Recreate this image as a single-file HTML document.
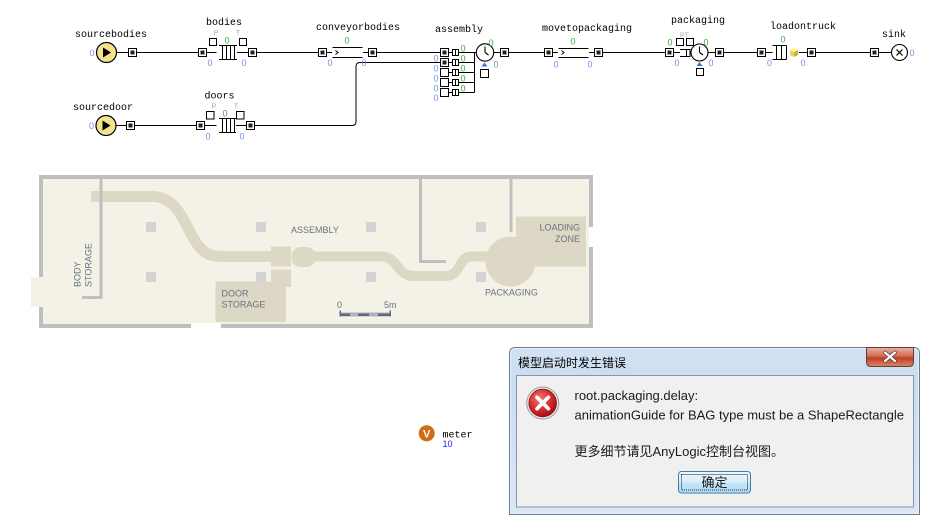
<!DOCTYPE html>
<html>
<head>
<meta charset="utf-8">
<style>
html,body{margin:0;padding:0;background:#fff;width:942px;height:527px;overflow:hidden;}
svg{display:block;}
.lb{font-family:"Liberation Mono",monospace;font-size:10px;fill:#000;}
.b0{font-family:"Liberation Sans",sans-serif;font-size:9px;fill:#6f8fe6;}
.g0{font-family:"Liberation Sans",sans-serif;font-size:9px;fill:#3ea83e;}
.pt{font-family:"Liberation Sans",sans-serif;font-size:7px;fill:#a8a8a8;}
.fp{font-family:"Liberation Sans",sans-serif;font-size:9px;fill:#67727f;}
.dt{font-family:"Liberation Sans","Noto Sans CJK SC",sans-serif;font-size:13px;fill:#1a1a1a;}
</style>
</head>
<body>
<svg width="942" height="527" viewBox="0 0 942 527" xmlns="http://www.w3.org/2000/svg">
<defs>
  <g id="pf"><rect x="-4" y="-4" width="8" height="8" fill="#fff" stroke="#000"/><rect x="-2" y="-2" width="4" height="4" fill="#222"/></g>
  <g id="pe"><rect x="-4" y="-4" width="8" height="8" fill="#fff" stroke="#000"/></g>
  <g id="sq"><rect x="-0.5" y="-3" width="6" height="6" fill="#fff" stroke="#000"/><line x1="2.5" y1="-3" x2="2.5" y2="3" stroke="#000"/></g>
  <linearGradient id="frame" x1="0" y1="0" x2="0" y2="1">
    <stop offset="0" stop-color="#d3e3f5"/><stop offset="0.2" stop-color="#cadcf1"/><stop offset="1" stop-color="#dbe7f4"/>
  </linearGradient>
  <linearGradient id="close" x1="0" y1="0" x2="0" y2="1">
    <stop offset="0" stop-color="#e9b3a6"/><stop offset="0.45" stop-color="#d46a53"/><stop offset="0.55" stop-color="#c13e22"/><stop offset="1" stop-color="#d8866c"/>
  </linearGradient>
  <radialGradient id="err" cx="0.4" cy="0.35" r="0.7">
    <stop offset="0" stop-color="#f07a7a"/><stop offset="0.6" stop-color="#d42a2a"/><stop offset="1" stop-color="#9c0c0c"/>
  </radialGradient>
  <linearGradient id="btn" x1="0" y1="0" x2="0" y2="1">
    <stop offset="0" stop-color="#ecf6fd"/><stop offset="0.5" stop-color="#dbeffc"/><stop offset="0.5" stop-color="#c4e5fb"/><stop offset="1" stop-color="#b2dcf8"/>
  </linearGradient>
</defs>

<!-- ============ TOP ROW ============ -->
<g stroke="#000" stroke-width="1" fill="none">
  <line x1="116.5" y1="52.5" x2="128.5" y2="52.5"/>
  <line x1="136.5" y1="52.5" x2="198.5" y2="52.5"/>
  <line x1="206.5" y1="52.5" x2="216.5" y2="52.5"/>
  <line x1="237" y1="52.5" x2="248.5" y2="52.5"/>
  <line x1="256.5" y1="52.5" x2="318.5" y2="52.5"/>
  <line x1="326.5" y1="52.5" x2="332" y2="52.5"/>
  <line x1="363" y1="52.5" x2="368.5" y2="52.5"/>
  <line x1="376.5" y1="52.5" x2="440.5" y2="52.5"/>
  <line x1="494" y1="52.5" x2="500.5" y2="52.5"/>
  <line x1="508.5" y1="52.5" x2="544.5" y2="52.5"/>
  <line x1="552.5" y1="52.5" x2="558" y2="52.5"/>
  <line x1="589" y1="52.5" x2="594.5" y2="52.5"/>
  <line x1="602.5" y1="52.5" x2="665.5" y2="52.5"/>
  <line x1="673.5" y1="52.5" x2="680" y2="52.5"/>
  <line x1="708" y1="52.5" x2="715.5" y2="52.5"/>
  <line x1="723.5" y1="52.5" x2="757.5" y2="52.5"/>
  <line x1="765.5" y1="52.5" x2="772.5" y2="52.5"/>
  <line x1="799" y1="52.5" x2="807.5" y2="52.5"/>
  <line x1="815.5" y1="52.5" x2="870.5" y2="52.5"/>
  <line x1="878.5" y1="52.5" x2="891" y2="52.5"/>
  <!-- bottom row lines -->
  <line x1="116" y1="125.5" x2="126.5" y2="125.5"/>
  <line x1="134.5" y1="125.5" x2="196.5" y2="125.5"/>
  <line x1="204.5" y1="125.5" x2="216.5" y2="125.5"/>
  <line x1="236" y1="125.5" x2="246.5" y2="125.5"/>
  <path d="M254.5,125.5 H352 Q356,125.5 356,121.5 V66.5 Q356,62.5 360,62.5 H440.5"/>
</g>

<!-- sourcebodies -->
<text class="lb" x="111" y="37" text-anchor="middle">sourcebodies</text>
<circle cx="106.5" cy="52.5" r="10" fill="#f3e38e" stroke="#000" stroke-width="1.2"/>
<polygon points="103,47.5 103,57.5 111,52.5" fill="#000"/>
<text class="b0" x="92" y="56" text-anchor="middle">0</text>
<use href="#pf" x="132.5" y="52.5"/>

<!-- bodies -->
<text class="lb" x="224" y="25" text-anchor="middle">bodies</text>
<use href="#pf" x="202.5" y="52.5"/>
<g stroke="#000" fill="none">
  <line x1="219" y1="45.5" x2="237" y2="45.5"/><line x1="219" y1="59.5" x2="237" y2="59.5"/>
  <line x1="222.5" y1="45.5" x2="222.5" y2="59.5"/><line x1="226.5" y1="45.5" x2="226.5" y2="59.5"/>
  <line x1="230.5" y1="45.5" x2="230.5" y2="59.5"/><line x1="234.5" y1="45.5" x2="234.5" y2="59.5"/>
  <rect x="209.5" y="38.5" width="7" height="7" fill="#fff"/>
  <rect x="239.5" y="38.5" width="7" height="7" fill="#fff"/>
</g>
<text class="pt" x="216" y="35" text-anchor="middle">P</text>
<text class="pt" x="238" y="35" text-anchor="middle">T</text>
<text class="g0" x="227" y="43.5" text-anchor="middle">0</text>
<text class="b0" x="210" y="66" text-anchor="middle">0</text>
<text class="b0" x="244" y="66" text-anchor="middle">0</text>
<use href="#pf" x="252.5" y="52.5"/>

<!-- conveyorbodies -->
<text class="lb" x="358" y="30" text-anchor="middle">conveyorbodies</text>
<use href="#pf" x="322.5" y="52.5"/>
<g stroke="#000" fill="none">
  <line x1="332.5" y1="47.5" x2="362.5" y2="47.5"/><line x1="332.5" y1="57.5" x2="362.5" y2="57.5"/>
  <polyline points="335.5,50.5 338,52.5 335.5,54.5"/>
</g>
<text class="g0" x="347" y="43.5" text-anchor="middle">0</text>
<text class="b0" x="330" y="66" text-anchor="middle">0</text>
<text class="b0" x="364" y="66" text-anchor="middle">0</text>
<use href="#pf" x="372.5" y="52.5"/>

<!-- assembly -->
<text class="lb" x="459" y="32" text-anchor="middle">assembly</text>
<use href="#pf" x="444.5" y="52.5"/>
<use href="#pf" x="444.5" y="62.5"/>
<use href="#pe" x="444.5" y="72.5"/>
<use href="#pe" x="444.5" y="82.5"/>
<use href="#pe" x="444.5" y="92.5"/>
<g stroke="#000" fill="none">
  <line x1="448.5" y1="52.5" x2="452.5" y2="52.5"/><line x1="448.5" y1="62.5" x2="452.5" y2="62.5"/>
  <line x1="448.5" y1="72.5" x2="452.5" y2="72.5"/><line x1="448.5" y1="82.5" x2="452.5" y2="82.5"/>
  <line x1="448.5" y1="92.5" x2="452.5" y2="92.5"/>
  <line x1="458.5" y1="52.5" x2="476.5" y2="52.5"/><line x1="458.5" y1="62.5" x2="474.5" y2="62.5"/>
  <line x1="458.5" y1="72.5" x2="474.5" y2="72.5"/><line x1="458.5" y1="82.5" x2="474.5" y2="82.5"/>
  <line x1="458.5" y1="92.5" x2="474.5" y2="92.5"/>
  <line x1="474.5" y1="52.5" x2="474.5" y2="92.5"/>
</g>
<use href="#sq" x="453" y="52.5"/><use href="#sq" x="453" y="62.5"/><use href="#sq" x="453" y="72.5"/>
<use href="#sq" x="453" y="82.5"/><use href="#sq" x="453" y="92.5"/>
<text class="g0" x="463" y="51.5" text-anchor="middle">0</text>
<text class="g0" x="463" y="61.5" text-anchor="middle">0</text>
<text class="g0" x="463" y="71.5" text-anchor="middle">0</text>
<text class="g0" x="463" y="81.5" text-anchor="middle">0</text>
<text class="g0" x="463" y="91.5" text-anchor="middle">0</text>
<text class="b0" x="436" y="61.5" text-anchor="middle">0</text>
<text class="b0" x="436" y="71.5" text-anchor="middle">0</text>
<text class="b0" x="436" y="81.5" text-anchor="middle">0</text>
<text class="b0" x="436" y="91.5" text-anchor="middle">0</text>
<text class="b0" x="436" y="101" text-anchor="middle">0</text>
<circle cx="485" cy="52.5" r="8.7" fill="#fff" stroke="#000" stroke-width="1.1"/>
<g stroke="#000" stroke-width="1.1"><line x1="485" y1="52.5" x2="485" y2="46.5"/><line x1="485" y1="52.5" x2="488.5" y2="55"/></g>
<text class="g0" x="491" y="46" text-anchor="middle">0</text>
<text class="b0" x="496" y="67.5" text-anchor="middle">0</text>
<polygon points="484.5,62.5 481.5,66.5 487.5,66.5" fill="#3a6fe0"/>
<rect x="480.5" y="69.5" width="8" height="8" fill="#fff" stroke="#000"/>
<use href="#pf" x="504.5" y="52.5"/>

<!-- movetopackaging -->
<text class="lb" x="587" y="31" text-anchor="middle">movetopackaging</text>
<use href="#pf" x="548.5" y="52.5"/>
<g stroke="#000" fill="none">
  <line x1="558.5" y1="48.5" x2="588.5" y2="48.5"/><line x1="558.5" y1="57.5" x2="588.5" y2="57.5"/>
  <polyline points="561.5,50.5 564,52.5 561.5,54.5"/>
</g>
<text class="g0" x="573" y="44.5" text-anchor="middle">0</text>
<text class="b0" x="556" y="67.5" text-anchor="middle">0</text>
<text class="b0" x="590" y="67.5" text-anchor="middle">0</text>
<use href="#pf" x="598.5" y="52.5"/>

<!-- packaging -->
<text class="lb" x="698" y="23" text-anchor="middle">packaging</text>
<use href="#pf" x="669.5" y="52.5"/>
<g stroke="#000" fill="none">
  <polyline points="680,49.5 690,49.5 690,56.5 680,56.5"/>
  <line x1="686.5" y1="49.5" x2="686.5" y2="56.5"/>
  <rect x="676.5" y="38.5" width="7" height="7" fill="#fff"/>
  <rect x="686.5" y="38.5" width="7" height="7" fill="#fff"/>
</g>
<text class="pt" x="684.5" y="37.5" text-anchor="middle">PT</text>
<circle cx="699.5" cy="52.5" r="8.5" fill="#fff" stroke="#000" stroke-width="1.1"/>
<g stroke="#000" stroke-width="1.1"><line x1="699.5" y1="52.5" x2="699.5" y2="46.5"/><line x1="699.5" y1="52.5" x2="703" y2="55"/></g>
<text class="g0" x="670" y="45.5" text-anchor="middle">0</text>
<text class="g0" x="706" y="45.5" text-anchor="middle">0</text>
<text class="b0" x="677" y="66" text-anchor="middle">0</text>
<text class="b0" x="711" y="66" text-anchor="middle">0</text>
<polygon points="699.5,62 696.5,66 702.5,66" fill="#3a6fe0"/>
<rect x="696.5" y="68.5" width="7" height="7" fill="#fff" stroke="#000"/>
<use href="#pf" x="719.5" y="52.5"/>

<!-- loadontruck -->
<text class="lb" x="803" y="29" text-anchor="middle">loadontruck</text>
<use href="#pf" x="761.5" y="52.5"/>
<g stroke="#000" fill="none">
  <line x1="772.5" y1="45.5" x2="786.5" y2="45.5"/><line x1="772.5" y1="59.5" x2="786.5" y2="59.5"/>
  <line x1="776.5" y1="45.5" x2="776.5" y2="59.5"/><line x1="781.5" y1="45.5" x2="781.5" y2="59.5"/>
  <line x1="786.5" y1="45.5" x2="786.5" y2="59.5"/>
</g>
<g>
  <polygon points="790,50 794,48 798,50 794,52" fill="#fbf2a0"/>
  <polygon points="790,50 794,52 794,57 790,55" fill="#e8d55a"/>
  <polygon points="794,52 798,50 798,55 794,57" fill="#c9b530"/>
</g>
<text class="g0" x="783" y="42.5" text-anchor="middle">0</text>
<text class="b0" x="769.5" y="66" text-anchor="middle">0</text>
<text class="b0" x="803" y="66" text-anchor="middle">0</text>
<use href="#pf" x="811.5" y="52.5"/>

<!-- sink -->
<text class="lb" x="894" y="37" text-anchor="middle">sink</text>
<use href="#pf" x="874.5" y="52.5"/>
<circle cx="899.5" cy="52.5" r="8" fill="#fff" stroke="#000" stroke-width="1.1"/>
<g stroke="#000" stroke-width="1.2"><line x1="896.5" y1="49.5" x2="902.5" y2="55.5"/><line x1="902.5" y1="49.5" x2="896.5" y2="55.5"/></g>
<text class="b0" x="912" y="56" text-anchor="middle">0</text>

<!-- ============ BOTTOM ROW ============ -->
<text class="lb" x="103" y="110" text-anchor="middle">sourcedoor</text>
<circle cx="106" cy="125.5" r="10" fill="#f3e38e" stroke="#000" stroke-width="1.2"/>
<polygon points="102.5,120.5 102.5,130.5 110.5,125.5" fill="#000"/>
<text class="b0" x="91.5" y="129" text-anchor="middle">0</text>
<use href="#pf" x="130.5" y="125.5"/>

<text class="lb" x="219.5" y="98.5" text-anchor="middle">doors</text>
<use href="#pf" x="200.5" y="125.5"/>
<g stroke="#000" fill="none">
  <line x1="219" y1="118.5" x2="236" y2="118.5"/><line x1="219" y1="132.5" x2="236" y2="132.5"/>
  <line x1="222.5" y1="118.5" x2="222.5" y2="132.5"/><line x1="226.5" y1="118.5" x2="226.5" y2="132.5"/>
  <line x1="230.5" y1="118.5" x2="230.5" y2="132.5"/><line x1="234.5" y1="118.5" x2="234.5" y2="132.5"/>
  <rect x="206.5" y="111.5" width="7.5" height="7.5" fill="#fff"/>
  <rect x="236.5" y="111.5" width="7.5" height="7.5" fill="#fff"/>
</g>
<text class="pt" x="214" y="108.5" text-anchor="middle">P</text>
<text class="pt" x="236" y="108.5" text-anchor="middle">T</text>
<text class="g0" x="225" y="116.5" text-anchor="middle">0</text>
<text class="b0" x="208" y="139.5" text-anchor="middle">0</text>
<text class="b0" x="242" y="139.5" text-anchor="middle">0</text>
<use href="#pf" x="250.5" y="125.5"/>

<!-- ============ FLOOR PLAN ============ -->
<rect x="39" y="175" width="554" height="153" fill="#f4f2e7"/>
<rect x="31" y="277" width="10" height="30" fill="#f4f2e7"/>
<rect x="191" y="323" width="30" height="6" fill="#fff"/>
<rect x="589" y="227" width="5" height="20" fill="#fff"/>

<!-- pillars -->
<g fill="#d3d3d3">
  <rect x="146" y="222" width="10" height="10"/><rect x="256" y="222" width="10" height="10"/>
  <rect x="366" y="222" width="10" height="10"/><rect x="476" y="222" width="10" height="10"/>
  <rect x="146" y="272" width="10" height="10"/><rect x="256" y="272" width="10" height="10"/>
  <rect x="366" y="272" width="10" height="10"/><rect x="476" y="272" width="10" height="10"/>
</g>

<!-- conveyor paths -->
<g fill="none" stroke="#ddd8c5" stroke-width="11">
  <path d="M91,196.5 H152 C172,196.5 180,212 190,232 C200,252 208,256.5 222,256.5 H272"/>
  <path d="M312,256.5 H383 C396,256.5 398,276 413,276 H446 C461,276 458,256.5 472,256.5 H495" stroke-width="10"/>
</g>
<g fill="#ddd8c5">
  <rect x="271" y="246.5" width="20" height="20"/>
  <rect x="291.5" y="247" width="24" height="20" rx="9"/>
  <rect x="271" y="269.5" width="20" height="17.5"/>
  <rect x="215.5" y="281.5" width="70.5" height="40.5"/>
  <circle cx="510.5" cy="261.5" r="25"/>
  <rect x="516" y="216.5" width="70" height="50"/>
</g>

<!-- walls -->
<g fill="#bfbfbf">
  <rect x="39" y="175" width="554" height="4"/>
  <rect x="39" y="175" width="4" height="102"/>
  <rect x="39" y="307" width="4" height="21"/>
  <rect x="39" y="324" width="152" height="4"/>
  <rect x="221" y="324" width="372" height="4"/>
  <rect x="589" y="175" width="4" height="52"/>
  <rect x="589" y="247" width="4" height="81"/>
  <rect x="99.5" y="179" width="3" height="120"/>
  <rect x="82" y="296" width="20" height="3"/>
  <rect x="419" y="179" width="3" height="84"/>
  <rect x="419" y="260" width="27" height="3"/>
  <rect x="509.5" y="179" width="3" height="53"/>
</g>

<!-- floor texts -->
<text class="fp" x="291" y="233">ASSEMBLY</text>
<text class="fp" x="221.5" y="296.5">DOOR</text>
<text class="fp" x="221.5" y="307.5">STORAGE</text>
<text class="fp" transform="translate(80.5,287) rotate(-90)">BODY</text>
<text class="fp" transform="translate(91.5,287) rotate(-90)">STORAGE</text>
<text class="fp" x="580" y="230.5" text-anchor="end">LOADING</text>
<text class="fp" x="580" y="242" text-anchor="end">ZONE</text>
<text class="fp" x="485" y="295.5">PACKAGING</text>
<text class="fp" x="337" y="308">0</text>
<text class="fp" x="384" y="308">5m</text>
<g>
  <rect x="339.5" y="312.5" width="51" height="4" fill="#aeb4bc"/>
  <rect x="340" y="313.5" width="10" height="2.5" fill="#5e6a79"/>
  <rect x="358" y="313.5" width="11" height="2.5" fill="#5e6a79"/>
  <rect x="378" y="313.5" width="12" height="2.5" fill="#5e6a79"/>
  <rect x="339.5" y="310.5" width="1.5" height="6" fill="#5e6a79"/>
  <rect x="389.5" y="310.5" width="1.5" height="6" fill="#5e6a79"/>
</g>

<!-- ============ METER ============ -->
<circle cx="426.7" cy="433.3" r="8" fill="#cf6d13"/>
<text x="426.7" y="437.5" text-anchor="middle" font-family="Liberation Sans, sans-serif" font-weight="bold" font-size="11" fill="#fff">V</text>
<text class="lb" x="442.5" y="437.5">meter</text>
<text x="442.5" y="447" font-family="Liberation Sans, sans-serif" font-size="9" fill="#1a1aff">10</text>

<!-- ============ DIALOG ============ -->
<path d="M509.5,514.5 V353.5 Q509.5,347.5 515.5,347.5 H913.5 Q919.5,347.5 919.5,353.5 V514.5 Z" fill="url(#frame)" stroke="#6e7b8a" stroke-width="1"/>
<path d="M510.5,513.5 V354 Q510.5,348.5 516,348.5 H913 Q918.5,348.5 918.5,354 V513.5 Z" fill="none" stroke="#eef4fb" stroke-width="1" opacity="0.8"/>
<text x="518" y="367" font-family="Liberation Sans, 'Noto Sans CJK SC', sans-serif" font-size="12" fill="#000">模型启动时发生错误</text>
<!-- close button -->
<path d="M866.5,347.5 H913.5 V362 Q913.5,366.5 909,366.5 H871 Q866.5,366.5 866.5,362 Z" fill="url(#close)" stroke="#6b3a33" stroke-width="1"/>
<g stroke-linecap="round">
  <line x1="885" y1="352.5" x2="895" y2="361" stroke="#4a3a3a" stroke-width="3.6"/>
  <line x1="895" y1="352.5" x2="885" y2="361" stroke="#4a3a3a" stroke-width="3.6"/>
  <line x1="885" y1="352.5" x2="895" y2="361" stroke="#fff" stroke-width="2.2"/>
  <line x1="895" y1="352.5" x2="885" y2="361" stroke="#fff" stroke-width="2.2"/>
</g>
<!-- content panel -->
<rect x="516.5" y="375.5" width="397" height="131.5" fill="#f0f0f0" stroke="#8596a9" stroke-width="1"/>
<!-- error icon -->
<circle cx="542.7" cy="403" r="16" fill="#e8e8e8" stroke="#9a9a9a" stroke-width="1"/>
<circle cx="542.7" cy="403" r="13.8" fill="url(#err)" stroke="#8a1010" stroke-width="0.8"/>
<g stroke="#fff" stroke-width="3.6" stroke-linecap="round">
  <line x1="537" y1="397.3" x2="548.4" y2="408.7"/><line x1="548.4" y1="397.3" x2="537" y2="408.7"/>
</g>
<!-- texts -->
<text class="dt" x="574.5" y="400">root.packaging.delay:</text>
<text class="dt" x="574.5" y="419.5">animationGuide for BAG type must be a ShapeRectangle</text>
<text class="dt" x="574.5" y="456">更多细节请见AnyLogic控制台视图。</text>
<!-- button -->
<rect x="678.5" y="471.5" width="72" height="21.5" rx="3" fill="url(#btn)" stroke="#3c7fb1" stroke-width="1"/>
<rect x="681.5" y="474.5" width="66" height="15.5" fill="none" stroke="#222" stroke-width="1" stroke-dasharray="1,1"/>
<text class="dt" x="714.5" y="487" text-anchor="middle">确定</text>
</svg>
</body>
</html>
